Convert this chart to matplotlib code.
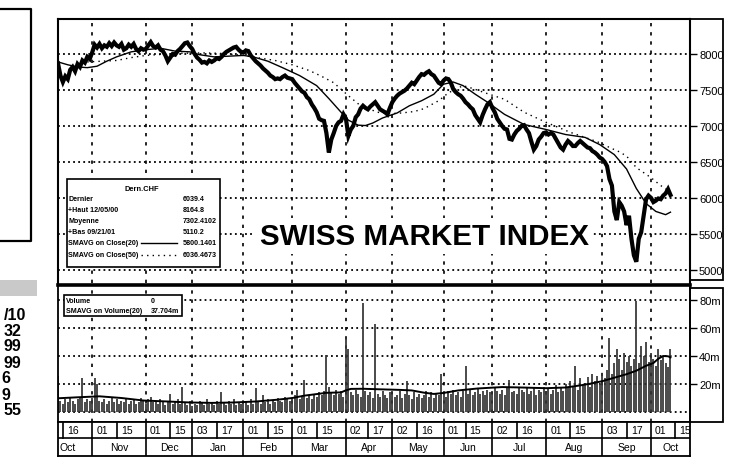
import numpy as np
import pandas as pd
import matplotlib
matplotlib.use("Agg")
import matplotlib.pyplot as plt
from matplotlib.patches import Rectangle
from matplotlib.lines import Line2D

# ---------------- data ----------------
holidays = ["2000-12-25", "2000-12-26", "2001-01-01", "2001-01-02", "2001-04-13",
            "2001-04-16", "2001-05-01", "2001-05-24", "2001-06-04"]
first_day = "2000-10-12"
n_sessions_axis = 259

# daily close, one value per trading session starting 2000-10-12
price_close = [
    7870, 7700, 7610, 7690, 7650, 7780, 7820, 7760, 7860, 7820,
    7910, 7880, 7960, 7930, 8020, 8130, 8090, 8140, 8080, 8120,
    8100, 8150, 8110, 8160, 8120, 8100, 8140, 8060, 8080, 8130,
    8100, 8140, 8070, 8040, 8080, 8060, 8070, 8120, 8165, 8110,
    8090, 8120, 8060, 8040, 7980, 7900, 7950, 8000, 7990, 8040,
    8070, 8110, 8150, 8160, 8110, 8070, 8000, 7950, 7920, 7880,
    7890, 7870, 7910, 7890, 7910, 7940, 7930, 7960, 8000, 8030,
    8050, 8070, 8090, 8100, 8060, 8030, 8020, 8050, 8040, 7980,
    7940, 7900, 7870, 7840, 7800, 7770, 7740, 7700, 7680, 7650,
    7660, 7650, 7680, 7700, 7670, 7660, 7650, 7600, 7560, 7520,
    7480, 7460, 7400, 7370, 7300, 7250, 7190, 7100, 7080, 7070,
    6900, 6630, 6810, 6900, 7000, 7050, 7070, 7160, 7100, 6860,
    6950, 7000, 7120, 7160, 7240, 7280, 7250, 7230, 7270, 7300,
    7330, 7280, 7230, 7210, 7190, 7160, 7250, 7330, 7380, 7420,
    7450, 7470, 7490, 7520, 7560, 7600, 7580, 7630, 7680, 7720,
    7710, 7740, 7760, 7720, 7700, 7650, 7600, 7580, 7630, 7660,
    7650, 7600, 7510, 7470, 7440, 7420, 7380, 7330, 7300, 7260,
    7230, 7150, 7100, 7050, 7150, 7230, 7300, 7330, 7250, 7190,
    7100, 7050, 7000, 6960, 6950, 6820, 6810, 6880, 6930, 6960,
    7000, 7010, 6950, 6900, 6780, 6670, 6720, 6810, 6850, 6900,
    6910, 6880, 6900, 6880, 6820, 6760, 6700, 6670, 6740, 6790,
    6760, 6720, 6720, 6760, 6790, 6760, 6730, 6700, 6690, 6650,
    6630, 6600, 6560, 6540, 6500, 6440, 6260, 6170, 5810, 5690,
    5940, 5890, 5810, 5620, 5750, 5430, 5200, 5110, 5430, 5520,
    5750, 5980, 6030, 6000, 5940, 5960, 5990, 5980, 6030, 6060,
    6120, 6040,
]

# 20-session moving average (solid), read at selected sessions
ma20_session = [0, 4, 8, 12, 16, 20, 24, 30, 36, 42, 48, 54, 58, 64, 70, 76, 80, 86,
                92, 99, 106, 111, 116, 119, 123, 126, 129, 133, 139, 144, 149, 154,
                158, 162, 166, 171, 176, 183, 191, 200, 208, 216, 222, 228, 233, 237,
                241, 245, 249, 251]
ma20_value = [7890, 7850, 7820, 7810, 7830, 7900, 7960, 8030, 8060, 8080, 8040, 8030,
              7990, 7960, 7970, 7980, 7960, 7900, 7810, 7700, 7560, 7380, 7190, 7080,
              7010, 7005, 7040, 7110, 7180, 7280, 7350, 7440, 7580, 7610, 7560, 7440,
              7330, 7160, 7020, 6950, 6880, 6840, 6740, 6600, 6400, 6130, 5920, 5810,
              5765, 5800]

# 50-session moving average (dotted)
ma50_session = [12, 18, 24, 30, 36, 49, 60, 66, 76, 89, 96, 103, 108, 113, 119, 124,
                131, 136, 141, 146, 150, 156, 160, 166, 170, 175, 183, 191, 200, 210,
                221, 226, 230, 233, 237, 243, 247, 251]
ma50_value = [7890, 7900, 7910, 7950, 7980, 8010, 8015, 8010, 7980, 7910, 7850, 7770,
              7690, 7600, 7420, 7280, 7190, 7170, 7180, 7200, 7240, 7350, 7460, 7560,
              7520, 7460, 7370, 7190, 7050, 6910, 6780, 6700, 6640, 6580, 6420, 6280,
              6170, 6080]

# daily volume (millions)
volume = [
    26, 8, 6, 9, 7, 10, 8, 6, 9, 11,
    24, 7, 9, 8, 10, 24, 20, 8, 7, 9,
    6, 8, 10, 7, 9, 6, 8, 7, 10, 6,
    8, 9, 6, 7, 10, 8, 6, 9, 11, 7,
    8, 6, 9, 7, 5, 8, 13, 6, 7, 9,
    6, 18, 7, 5, 8, 4, 6, 5, 8, 7,
    5, 9, 6, 7, 5, 8, 6, 14, 7, 5,
    8, 6, 9, 5, 7, 6, 8, 7, 5, 9,
    6, 17, 8, 6, 12, 7, 9, 6, 8, 7,
    10, 8, 7, 11, 9, 8, 10, 12, 16, 9,
    11, 23, 10, 12, 9, 13, 11, 14, 12, 15,
    41, 18, 14, 12, 16, 13, 15, 11, 53, 45,
    14, 12, 16, 13, 11, 78, 15, 12, 14, 10,
    63, 13, 11, 15, 12, 10, 14, 13, 11, 12,
    15, 10, 13, 22, 12, 9, 14, 11, 13, 10,
    12, 15, 11, 14, 10, 13, 12, 27, 14, 11,
    15, 13, 16, 12, 14, 11, 15, 33, 13, 16,
    12, 14, 17, 13, 15, 12, 16, 14, 13, 17,
    15, 13, 16, 12, 18, 23, 14, 15, 13, 17,
    16, 14, 18, 13, 15, 17, 12, 16, 14, 18,
    15, 17, 13, 16, 19, 14, 18, 15, 20, 17,
    22, 18, 33, 16, 24, 19, 21, 25, 18, 27,
    22, 26, 20, 28, 24, 30, 53, 27, 35, 45,
    38, 30, 42, 36, 40, 33, 38, 79, 35, 47,
    40, 50, 36, 42, 38, 33, 45, 37, 40, 35,
    32, 45,
]

vma_session = [0, 8, 17, 26, 35, 45, 54, 63, 72, 81, 90, 96, 101, 106, 110, 116, 118,
               120, 125, 132, 140, 145, 150, 154, 158, 164, 172, 182, 190, 200, 208,
               214, 218, 223, 228, 233, 237, 241, 244, 246, 248, 250, 251]
vma_value = [9.8, 10.5, 11.2, 10, 8.2, 7.5, 6.8, 6.5, 6.8, 7.5, 8.8, 10, 11.7, 12.8,
             13.7, 14, 15.5, 16.5, 16.6, 16.2, 15.8, 15.4, 13.8, 12.9, 13.6, 15.4,
             16.8, 17.8, 17.5, 17, 17.5, 19, 20.2, 22, 24.5, 27, 29.5, 33, 35, 38, 40,
             39.8, 39]

price_ticks = [5000, 5500, 6000, 6500, 7000, 7500, 8000]
vol_ticks = [20, 40, 60, 80]
vol_tick_labels = ["20m", "40m", "60m", "80m"]

day_tick_dates = ["2000-10-16", "2000-11-01", "2000-11-15", "2000-12-01", "2000-12-15",
                  "2001-01-03", "2001-01-17", "2001-02-01", "2001-02-15", "2001-03-01",
                  "2001-03-15", "2001-04-02", "2001-04-17", "2001-05-02", "2001-05-16",
                  "2001-06-01", "2001-06-15", "2001-07-02", "2001-07-16", "2001-08-01",
                  "2001-08-15", "2001-09-03", "2001-09-17", "2001-10-01", "2001-10-15"]
day_tick_labels = ["16", "01", "15", "01", "15", "03", "17", "01", "15", "01", "15", "02",
                   "17", "02", "16", "01", "15", "02", "16", "01", "15", "03", "17", "01",
                   "15"]
month_start_dates = ["2000-11-01", "2000-12-01", "2001-01-03", "2001-02-01", "2001-03-01",
                     "2001-04-02", "2001-05-02", "2001-06-01", "2001-07-02", "2001-08-01",
                     "2001-09-03", "2001-10-01"]
month_labels = ["Oct", "Nov", "Dec", "Jan", "Feb", "Mar", "Apr", "May", "Jun", "Jul",
                "Aug", "Sep", "Oct"]

legend_rows = ["Dernier", "+Haut 12/05/00", "Moyenne", "+Bas 09/21/01",
               "SMAVG on Close(20)", "SMAVG on Close(50)"]
legend_vals = ["6039.4", "8164.8", "7302.4102", "5110.2", "5800.1401", "6036.4673"]
side_texts = ["/10", "32", "99", "99", "6", "9", "55"]

# ---------------- calendar ----------------
days = pd.bdate_range(first_day, "2001-12-31")
days = days[~days.isin(pd.to_datetime(holidays))]


def sess(d):
    return int(days.searchsorted(pd.Timestamp(d)))


day_ticks = [sess(d) for d in day_tick_dates]
month_starts = [sess(d) for d in month_start_dates]

# ---------------- figure ----------------
W, H = 754, 464
fig = plt.figure(figsize=(W / 100, H / 100), dpi=100)
fig.patch.set_facecolor("white")


def fx(x):
    return x / W


def fy(y):
    return 1 - y / H


SANS = ["Liberation Sans", "DejaVu Sans"]

L, R = 58, 690
ax_p = fig.add_axes([fx(L), fy(284), (R - L) / W, (284 - 20) / H])
ax_v = fig.add_axes([fx(L), fy(423), (R - L) / W, (423 - 287) / H])
ax_d = fig.add_axes([fx(L), fy(457), (R - L) / W, (457 - 423) / H])

# price axis mapping: 8000 at y=55, 13.91 per px
p_top = 8000 + (55 - 20) * 13.91
p_bot = 8000 - (284 - 55) * 13.91
v_top = 80 + (301 - 287) / 1.4
v_bot = -(423 - 413) / 1.4

hdots = dict(color="black", lw=1.3, ls=(0, (1.0, 1.8)), zorder=1)
vdash = dict(color="black", lw=1.2, ls=(0, (2.0, 3.5)), zorder=1)

# --- price panel
x_price = np.arange(len(price_close))
ax_p.plot(x_price, price_close, color="black", lw=3.0, zorder=4, solid_joinstyle="miter")
ax_p.plot(ma20_session, ma20_value, color="black", lw=1.0, zorder=3)
ax_p.plot(ma50_session, ma50_value, color="black", lw=1.0, ls=(0, (1, 3)), zorder=3)
for v in price_ticks:
    ax_p.axhline(v, **hdots)
for s in month_starts:
    ax_p.axvline(s, **vdash)
ax_p.set_xlim(0, n_sessions_axis)
ax_p.set_ylim(p_bot, p_top)
ax_p.set_xticks([])
ax_p.yaxis.tick_right()
ax_p.set_yticks(price_ticks)
ax_p.set_yticklabels([str(v) for v in price_ticks], fontsize=8, family=SANS)
ax_p.tick_params(axis="y", direction="out", length=5, width=1.0, pad=1.5)
for sp in ax_p.spines.values():
    sp.set_linewidth(1.5)
ax_p.spines["bottom"].set_visible(False)

# --- volume panel
x_vol = np.arange(len(volume))
ax_v.vlines(x_vol, 0, volume, color="#333333", lw=1.25, zorder=2)
ax_v.plot(vma_session, vma_value, color="black", lw=1.4, zorder=4)
for v in [0] + vol_ticks:
    ax_v.axhline(v, **hdots)
for s in month_starts:
    ax_v.axvline(s, **vdash)
ax_v.set_xlim(0, n_sessions_axis)
ax_v.set_ylim(v_bot, v_top)
ax_v.set_xticks([])
ax_v.yaxis.tick_right()
ax_v.set_yticks(vol_ticks)
ax_v.set_yticklabels(vol_tick_labels, fontsize=8, family=SANS)
ax_v.tick_params(axis="y", direction="out", length=5, width=1.0, pad=1.5)
for sp in ax_v.spines.values():
    sp.set_linewidth(1.3)
ax_v.spines["top"].set_visible(False)

# --- date axis
ax_d.set_xlim(0, n_sessions_axis)
ax_d.set_ylim(0, 34)
ax_d.set_xticks([])
ax_d.set_yticks([])
for sp in ax_d.spines.values():
    sp.set_linewidth(1.3)
ax_d.axhline(18, color="black", lw=1.2)
for s, lab in zip(day_ticks, day_tick_labels):
    ax_d.plot([s, s], [18, 34], color="black", lw=1.2)
    ax_d.annotate(lab, (s, 25.5), xytext=(3, 0), textcoords="offset points",
                  ha="left", va="center", fontsize=7.5, family=SANS)
bounds = [0] + month_starts + [n_sessions_axis]
for s in month_starts:
    ax_d.plot([s, s], [0, 18], color="black", lw=1.2)
for i, lab in enumerate(month_labels):
    if i == 0:
        ax_d.annotate(lab, (bounds[0], 8.5), xytext=(1, 0), textcoords="offset points",
                      ha="left", va="center", fontsize=7.5, family=SANS)
    else:
        ax_d.text((bounds[i] + bounds[i + 1]) / 2, 8.5, lab, ha="center", va="center",
                  fontsize=7.5, family=SANS)

# --- thick separator and right label boxes
fig.add_artist(Line2D([fx(L), fx(R)], [fy(285.5), fy(285.5)], color="black", lw=2.6,
                      transform=fig.transFigure))
fig.add_artist(Rectangle((fx(R), fy(281)), (723 - R) / W, (281 - 20) / H, fill=False,
                         ec="black", lw=1.3, transform=fig.transFigure))
fig.add_artist(Rectangle((fx(R), fy(423)), (723 - R) / W, (423 - 289) / H, fill=False,
                         ec="black", lw=1.3, transform=fig.transFigure))

# --- price legend box
fig.add_artist(Rectangle((fx(66.5), fy(268)), (220 - 66.5) / W, (268 - 180) / H,
                         fc="white", ec="black", lw=1.2, transform=fig.transFigure,
                         zorder=5))
fig.text(fx(142), fy(189.5), "Dern.CHF", ha="center", va="center", fontsize=5.4,
         family=SANS, weight="bold", zorder=6)
row_y = [200, 211, 222, 233, 244, 255.5]
for yy, lab, val in zip(row_y, legend_rows, legend_vals):
    fig.text(fx(68.5), fy(yy), lab, ha="left", va="center", fontsize=5.1,
             family=SANS, weight="bold", zorder=6)
    fig.text(fx(183), fy(yy), val, ha="left", va="center", fontsize=5.1,
             family=SANS, weight="bold", zorder=6)
fig.add_artist(Line2D([fx(141), fx(177)], [fy(row_y[4]), fy(row_y[4])], color="black",
                      lw=1.0, transform=fig.transFigure, zorder=6))
fig.add_artist(Line2D([fx(141), fx(177)], [fy(row_y[5]), fy(row_y[5])], color="black",
                      lw=1.0, ls=(0, (1, 3)), transform=fig.transFigure, zorder=6))

# --- volume legend box
fig.add_artist(Rectangle((fx(64), fy(317)), (182 - 64) / W, (317 - 296) / H,
                         fc="white", ec="black", lw=1.2, transform=fig.transFigure,
                         zorder=5))
fig.text(fx(66), fy(301.5), "Volume", ha="left", va="center", fontsize=5.1,
         family=SANS, weight="bold", zorder=6)
fig.text(fx(151), fy(301.5), "0", ha="left", va="center", fontsize=5.1,
         family=SANS, weight="bold", zorder=6)
fig.text(fx(66), fy(311.5), "SMAVG on Volume(20)", ha="left", va="center",
         fontsize=5.1, family=SANS, weight="bold", zorder=6)
fig.text(fx(151), fy(311.5), "37.704m", ha="left", va="center", fontsize=5.1,
         family=SANS, weight="bold", zorder=6)

# --- title
fig.text(fx(424), fy(245), "SWISS MARKET INDEX", ha="center", va="baseline",
         fontsize=21.3, family=SANS, weight="bold", zorder=6,
         bbox=dict(fc="white", ec="none", pad=3))

# --- left cropped sidebar
fig.add_artist(Line2D([0, fx(31), fx(31), 0], [fy(10), fy(10), fy(242), fy(242)],
                      color="black", lw=1.6, transform=fig.transFigure))
fig.add_artist(Rectangle((0, fy(297)), 37 / W, (297 - 281) / H, fc="#c9c9c9",
                         ec="none", hatch="....", transform=fig.transFigure))
side_right = [26, 21, 21, 21, 10, 10, 21]
for k, (t, xr) in enumerate(zip(side_texts, side_right)):
    fig.text(fx(xr), fy(315 + 16 * k), t, ha="right", va="center", fontsize=11.5,
             family=SANS, weight="bold")

fig.savefig("out.png", dpi=100)
